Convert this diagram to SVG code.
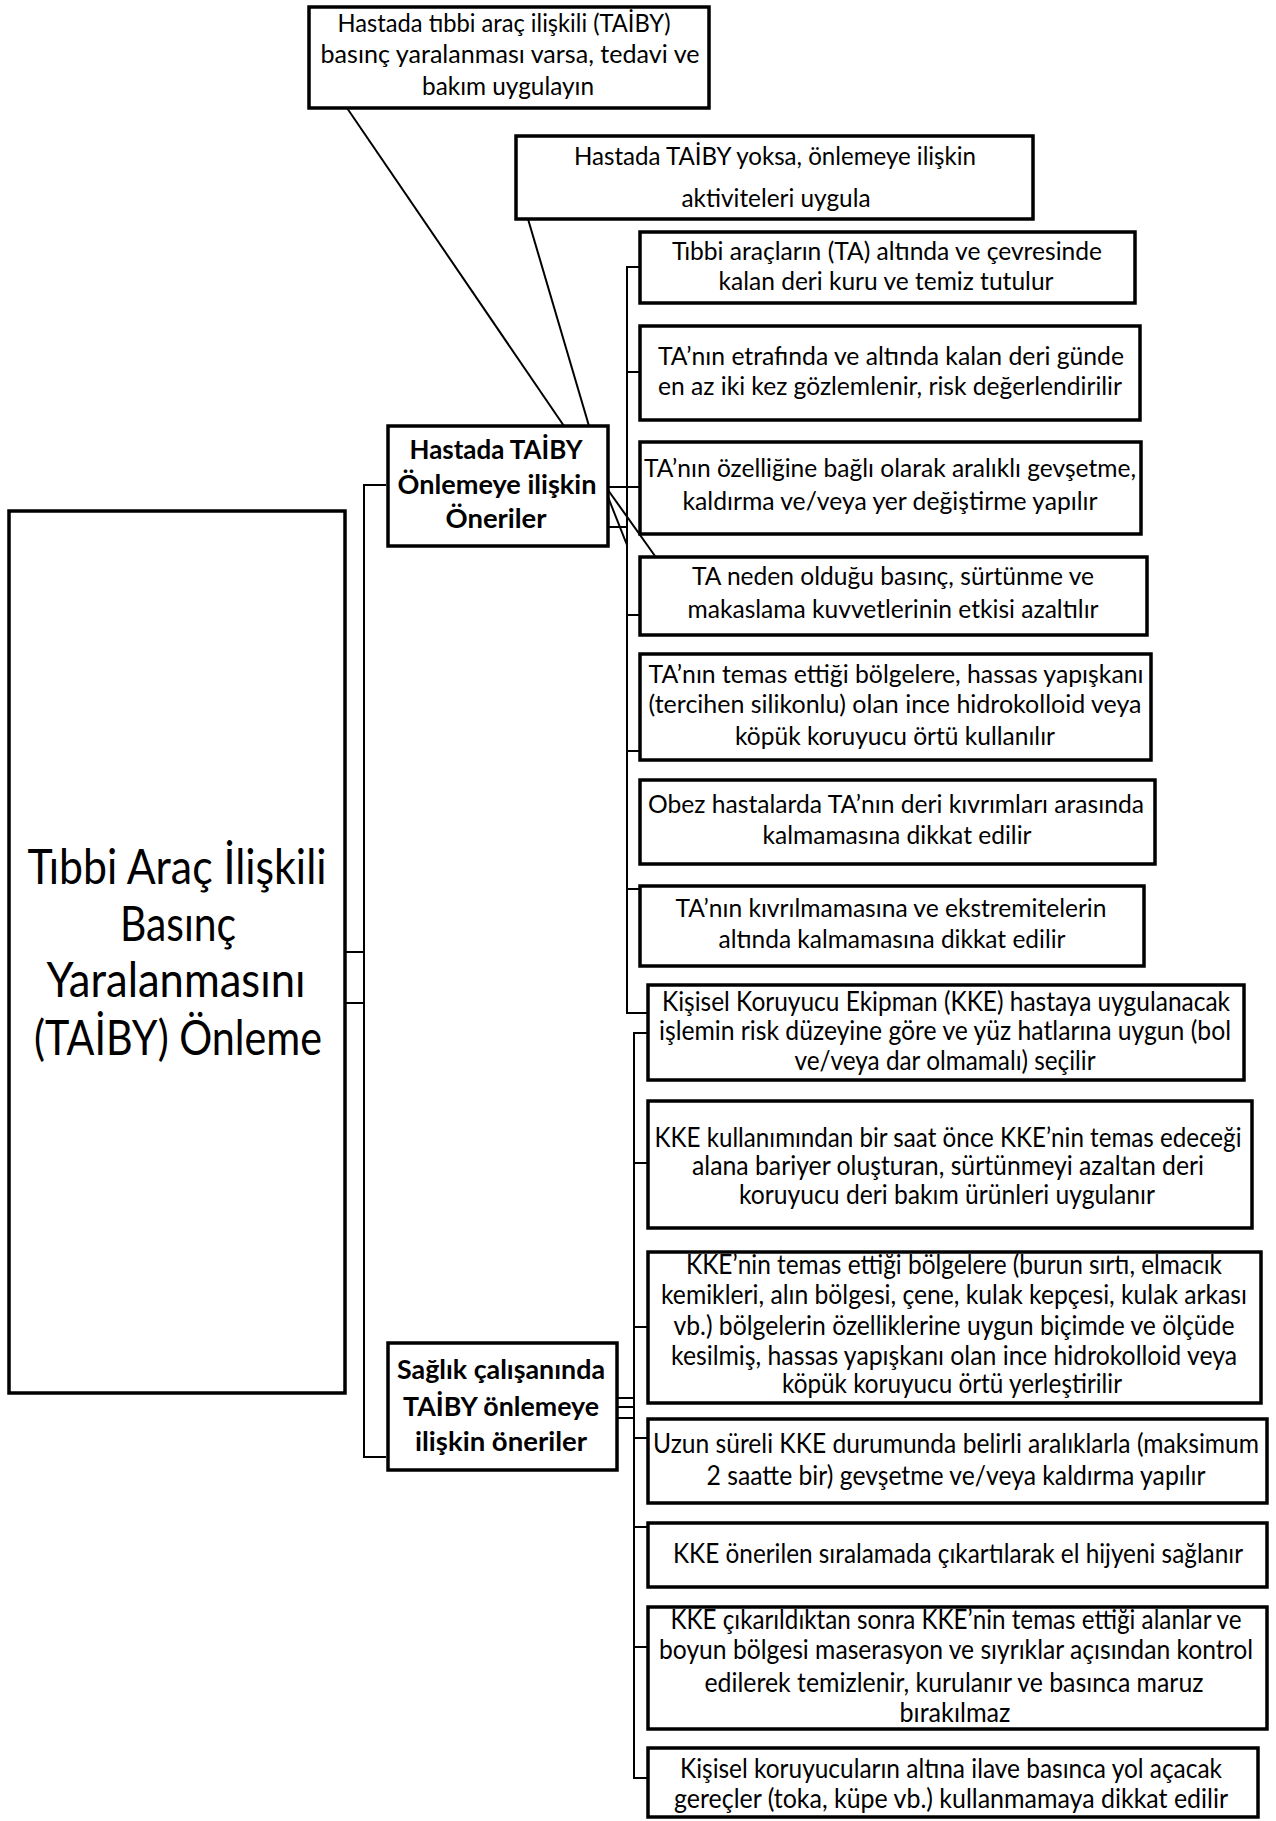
<svg xmlns="http://www.w3.org/2000/svg" width="1276" height="1821" viewBox="0 0 1276 1821">
<style>
rect.b{fill:#fff;stroke:#000;stroke-width:3.5}
.c line,.c path{stroke:#000;stroke-width:2;fill:none}
text{font-family:Lato,"Open Sans","Liberation Sans",sans-serif;fill:#000;text-anchor:middle}
.t{font-size:25px}
.k{font-size:26px}
.m{font-size:48px}
.h{font-size:26px;font-weight:bold}
</style>
<rect width="1276" height="1821" fill="#fff"/>
<g class="c" id="connectors">
<line x1="347" y1="108" x2="564" y2="426"/>
<line x1="528" y1="219" x2="589" y2="426"/>
<path d="M386 485H364V1457H386"/>
<line x1="345" y1="952" x2="364" y2="952"/>
<line x1="345" y1="1003" x2="364" y2="1003"/>
<path d="M640 267H627V1013H648"/>
<line x1="627" y1="372" x2="640" y2="372"/>
<line x1="608" y1="487" x2="640" y2="487"/>
<line x1="608" y1="527" x2="627" y2="527"/>
<line x1="608" y1="490" x2="655" y2="556"/>
<line x1="608" y1="497" x2="627" y2="545"/>
<line x1="627" y1="615" x2="640" y2="615"/>
<line x1="627" y1="751" x2="640" y2="751"/>
<line x1="627" y1="889" x2="640" y2="889"/>
<path d="M648 1033H634V1778H648"/>
<line x1="634" y1="1163" x2="648" y2="1163"/>
<line x1="634" y1="1327" x2="648" y2="1327"/>
<line x1="634" y1="1438" x2="648" y2="1438"/>
<line x1="634" y1="1527" x2="648" y2="1527"/>
<line x1="634" y1="1647" x2="648" y2="1647"/>
<line x1="617" y1="1398" x2="634" y2="1398"/>
<line x1="617" y1="1407" x2="634" y2="1407"/>
<line x1="617" y1="1418" x2="634" y2="1418"/>
</g>
<g id="main">
<rect class="b" x="9" y="511" width="336" height="882"/>
<text class="m" x="177" y="884" textLength="299" lengthAdjust="spacingAndGlyphs">Tıbbi Araç İlişkili</text>
<text class="m" x="178" y="941" textLength="116" lengthAdjust="spacingAndGlyphs">Basınç</text>
<text class="m" x="176" y="997" textLength="259" lengthAdjust="spacingAndGlyphs">Yaralanmasını</text>
<text class="m" x="178" y="1055" textLength="288" lengthAdjust="spacingAndGlyphs">(TAİBY) Önleme</text>
</g>
<g id="boxA">
<rect class="b" x="309" y="7" width="400" height="101"/>
<text class="t" x="504" y="32" textLength="333" lengthAdjust="spacingAndGlyphs">Hastada tıbbi araç ilişkili (TAİBY)</text>
<text class="t" x="510" y="63" textLength="379" lengthAdjust="spacingAndGlyphs">basınç yaralanması varsa, tedavi ve</text>
<text class="t" x="508" y="95" textLength="172" lengthAdjust="spacingAndGlyphs">bakım uygulayın</text>
</g>
<g id="boxB">
<rect class="b" x="516" y="136" width="517" height="83"/>
<text class="t" x="775" y="165" textLength="402" lengthAdjust="spacingAndGlyphs">Hastada TAİBY yoksa, önlemeye ilişkin</text>
<text class="t" x="776" y="207" textLength="189" lengthAdjust="spacingAndGlyphs">aktiviteleri uygula</text>
</g>
<g id="hasta">
<rect class="b" x="388" y="426" width="220" height="120"/>
<text class="h" x="496" y="459" textLength="173" lengthAdjust="spacingAndGlyphs">Hastada TAİBY</text>
<text class="h" x="497" y="494" textLength="199" lengthAdjust="spacingAndGlyphs">Önlemeye ilişkin</text>
<text class="h" x="496" y="528" textLength="101" lengthAdjust="spacingAndGlyphs">Öneriler</text>
</g>
<g id="saglik">
<rect class="b" x="388" y="1343" width="229" height="127"/>
<text class="h" x="501" y="1379" textLength="208" lengthAdjust="spacingAndGlyphs">Sağlık çalışanında</text>
<text class="h" x="501" y="1416" textLength="196" lengthAdjust="spacingAndGlyphs">TAİBY önlemeye</text>
<text class="h" x="501" y="1451" textLength="172" lengthAdjust="spacingAndGlyphs">ilişkin öneriler</text>
</g>
<g id="p1">
<rect class="b" x="640" y="232" width="495" height="71"/>
<text class="t" x="887" y="260" textLength="430" lengthAdjust="spacingAndGlyphs">Tıbbi araçların (TA) altında ve çevresinde</text>
<text class="t" x="886" y="290" textLength="335" lengthAdjust="spacingAndGlyphs">kalan deri kuru ve temiz tutulur</text>
</g>
<g id="p2">
<rect class="b" x="640" y="326" width="500" height="94"/>
<text class="t" x="891" y="365" textLength="466" lengthAdjust="spacingAndGlyphs">TA’nın etrafında ve altında kalan deri günde</text>
<text class="t" x="890" y="395" textLength="464" lengthAdjust="spacingAndGlyphs">en az iki kez gözlemlenir, risk değerlendirilir</text>
</g>
<g id="p3">
<rect class="b" x="640" y="442" width="501" height="92"/>
<text class="t" x="890" y="477" textLength="492" lengthAdjust="spacingAndGlyphs">TA’nın özelliğine bağlı olarak aralıklı gevşetme,</text>
<text class="t" x="890" y="510" textLength="415" lengthAdjust="spacingAndGlyphs">kaldırma ve/veya yer değiştirme yapılır</text>
</g>
<g id="p4">
<rect class="b" x="640" y="557" width="507" height="78"/>
<text class="t" x="893" y="585" textLength="402" lengthAdjust="spacingAndGlyphs">TA neden olduğu basınç, sürtünme ve</text>
<text class="t" x="893" y="618" textLength="411" lengthAdjust="spacingAndGlyphs">makaslama kuvvetlerinin etkisi azaltılır</text>
</g>
<g id="p5">
<rect class="b" x="640" y="654" width="511" height="106"/>
<text class="t" x="896" y="683" textLength="495" lengthAdjust="spacingAndGlyphs">TA’nın temas ettiği bölgelere, hassas yapışkanı</text>
<text class="t" x="895" y="713" textLength="493" lengthAdjust="spacingAndGlyphs">(tercihen silikonlu) olan ince hidrokolloid veya</text>
<text class="t" x="895" y="745" textLength="320" lengthAdjust="spacingAndGlyphs">köpük koruyucu örtü kullanılır</text>
</g>
<g id="p6">
<rect class="b" x="640" y="780" width="515" height="84"/>
<text class="t" x="896" y="813" textLength="496" lengthAdjust="spacingAndGlyphs">Obez hastalarda TA’nın deri kıvrımları arasında</text>
<text class="t" x="897" y="844" textLength="269" lengthAdjust="spacingAndGlyphs">kalmamasına dikkat edilir</text>
</g>
<g id="p7">
<rect class="b" x="640" y="886" width="504" height="80"/>
<text class="t" x="891" y="917" textLength="431" lengthAdjust="spacingAndGlyphs">TA’nın kıvrılmamasına ve ekstremitelerin</text>
<text class="t" x="892" y="948" textLength="347" lengthAdjust="spacingAndGlyphs">altında kalmamasına dikkat edilir</text>
</g>
<g id="k1">
<rect class="b" x="648" y="985" width="596" height="95"/>
<text class="k" x="946" y="1011" textLength="568" lengthAdjust="spacingAndGlyphs">Kişisel  Koruyucu Ekipman (KKE)  hastaya uygulanacak</text>
<text class="k" x="945" y="1040" textLength="572" lengthAdjust="spacingAndGlyphs">işlemin risk düzeyine göre ve yüz hatlarına uygun (bol</text>
<text class="k" x="945" y="1070" textLength="301" lengthAdjust="spacingAndGlyphs">ve/veya dar olmamalı) seçilir</text>
</g>
<g id="k2">
<rect class="b" x="648" y="1101" width="604" height="127"/>
<text class="k" x="948" y="1147" textLength="587" lengthAdjust="spacingAndGlyphs">KKE kullanımından bir saat önce KKE’nin temas edeceği</text>
<text class="k" x="948" y="1175" textLength="512" lengthAdjust="spacingAndGlyphs">alana bariyer oluşturan, sürtünmeyi azaltan deri</text>
<text class="k" x="947" y="1204" textLength="416" lengthAdjust="spacingAndGlyphs">koruyucu deri bakım ürünleri uygulanır</text>
</g>
<g id="k3">
<rect class="b" x="648" y="1252" width="613" height="151"/>
<text class="k" x="954" y="1274" textLength="536" lengthAdjust="spacingAndGlyphs">KKE’nin temas ettiği bölgelere (burun sırtı, elmacık</text>
<text class="k" x="954" y="1304" textLength="586" lengthAdjust="spacingAndGlyphs">kemikleri, alın bölgesi, çene, kulak kepçesi, kulak arkası</text>
<text class="k" x="954" y="1335" textLength="561" lengthAdjust="spacingAndGlyphs">vb.) bölgelerin özelliklerine uygun biçimde ve ölçüde</text>
<text class="k" x="954" y="1365" textLength="566" lengthAdjust="spacingAndGlyphs">kesilmiş, hassas yapışkanı olan ince hidrokolloid veya</text>
<text class="k" x="952" y="1393" textLength="340" lengthAdjust="spacingAndGlyphs">köpük koruyucu örtü yerleştirilir</text>
</g>
<g id="k4">
<rect class="b" x="648" y="1419" width="619" height="84"/>
<text class="k" x="956" y="1453" textLength="606" lengthAdjust="spacingAndGlyphs">Uzun süreli KKE durumunda belirli aralıklarla (maksimum</text>
<text class="k" x="956" y="1485" textLength="499" lengthAdjust="spacingAndGlyphs">2 saatte bir) gevşetme ve/veya kaldırma yapılır</text>
</g>
<g id="k5">
<rect class="b" x="648" y="1523" width="619" height="64"/>
<text class="k" x="958" y="1563" textLength="570" lengthAdjust="spacingAndGlyphs">KKE önerilen sıralamada çıkartılarak el hijyeni sağlanır</text>
</g>
<g id="k6">
<rect class="b" x="648" y="1607" width="619" height="122"/>
<text class="k" x="956" y="1629" textLength="571" lengthAdjust="spacingAndGlyphs">KKE çıkarıldıktan sonra KKE’nin temas ettiği  alanlar ve</text>
<text class="k" x="956" y="1659" textLength="594" lengthAdjust="spacingAndGlyphs">boyun bölgesi maserasyon ve sıyrıklar açısından kontrol</text>
<text class="k" x="954" y="1692" textLength="499" lengthAdjust="spacingAndGlyphs">edilerek temizlenir, kurulanır ve basınca maruz</text>
<text class="k" x="955" y="1722" textLength="111" lengthAdjust="spacingAndGlyphs">bırakılmaz</text>
</g>
<g id="k7">
<rect class="b" x="648" y="1748" width="610" height="69"/>
<text class="k" x="951" y="1778" textLength="542" lengthAdjust="spacingAndGlyphs">Kişisel koruyucuların altına ilave basınca yol açacak</text>
<text class="k" x="951" y="1808" textLength="554" lengthAdjust="spacingAndGlyphs">gereçler (toka, küpe vb.) kullanmamaya dikkat edilir</text>
</g>
</svg>
